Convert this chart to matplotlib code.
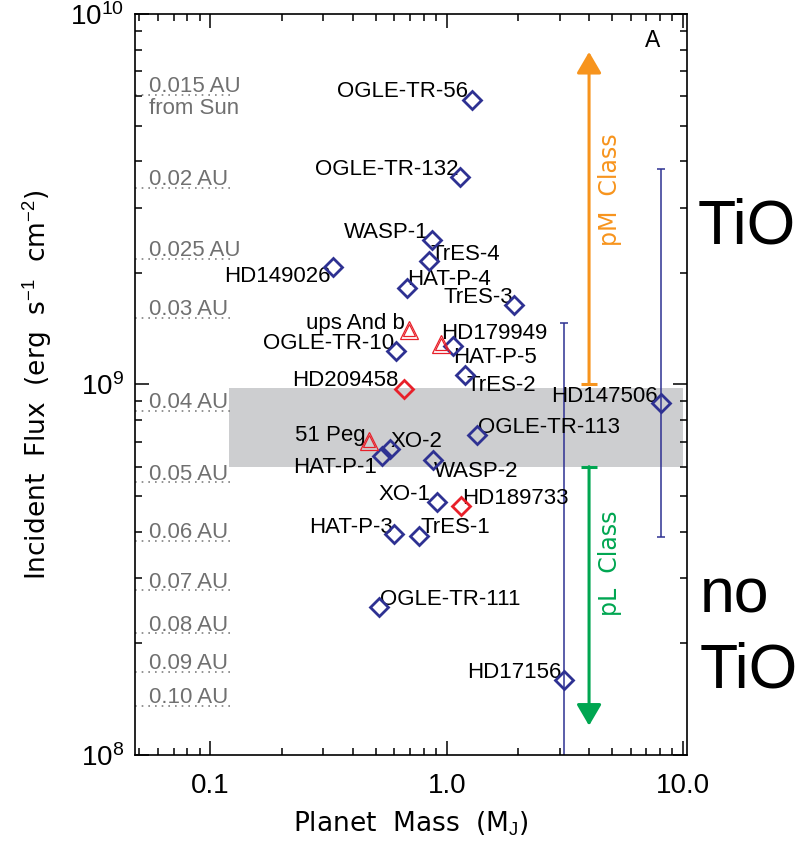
import numpy as np
import matplotlib
matplotlib.use("Agg")
import matplotlib.pyplot as plt
from matplotlib.ticker import FixedLocator, NullFormatter

plt.rcParams['font.family'] = ['Liberation Sans', 'DejaVu Sans']
plt.rcParams['mathtext.fontset'] = 'custom'
plt.rcParams['mathtext.rm'] = 'Liberation Sans'
plt.rcParams['mathtext.it'] = 'Liberation Sans:italic'

# -----------------------
# Data
# -----------------------
# planets without TiO-class info (navy diamonds)
blue_names = ["OGLE-TR-56", "OGLE-TR-132", "WASP-1", "TrES-4", "HD149026",
              "HAT-P-4", "TrES-3", "OGLE-TR-10", "HAT-P-5", "TrES-2",
              "HD147506", "OGLE-TR-113", "XO-2", "HAT-P-1", "WASP-2",
              "XO-1", "HAT-P-3", "TrES-1", "OGLE-TR-111", "HD17156"]
blue_mass = [1.28, 1.135, 0.864, 0.841, 0.331,
             0.681, 1.93, 0.608, 1.067, 1.195,
             8.07, 1.349, 0.575, 0.534, 0.875,
             0.907, 0.598, 0.763, 0.517, 3.12]
blue_flux = [5.87e9, 3.64e9, 2.46e9, 2.15e9, 2.07e9,
             1.82e9, 1.64e9, 1.235e9, 1.27e9, 1.064e9,
             8.93e8, 7.31e8, 6.71e8, 6.43e8, 6.24e8,
             4.83e8, 3.94e8, 3.91e8, 2.51e8, 1.59e8]

# observed planets (red diamonds / red triangles)
red_d_names = ["HD209458", "HD189733"]
red_d_mass = [0.657, 1.146]
red_d_flux = [9.75e8, 4.69e8]

red_t_names = ["ups And b", "HD179949", "51 Peg"]
red_t_mass = [0.69, 0.95, 0.467]
red_t_flux = [1.40e9, 1.29e9, 7.02e8]

# eccentric planets: flux range over the orbit
ecc_names = ["HD147506", "HD17156"]
ecc_mass = [8.07, 3.12]
ecc_flux = [8.93e8, 1.59e8]
ecc_flux_lo = [3.87e8, 5.0e7]
ecc_flux_hi = [3.82e9, 1.47e9]

# distance from the Sun giving the same flux
au_labels = ["0.015 AU", "0.02 AU", "0.025 AU", "0.03 AU", "0.04 AU", "0.05 AU",
             "0.06 AU", "0.07 AU", "0.08 AU", "0.09 AU", "0.10 AU"]
au_flux = [6.05e9, 3.40e9, 2.18e9, 1.51e9, 8.5e8, 5.44e8,
           3.78e8, 2.78e8, 2.13e8, 1.68e8, 1.36e8]

# transition region and class arrows
band_mass = [0.12, 10.0]
band_flux = [6.0e8, 9.8e8]
class_mass = 4.0
pm_flux = [1.0e9, 7.9e9]
pl_flux = [6.0e8, 1.2e8]

# label offsets (pixels) and alignment
label_pos = {
    "OGLE-TR-56": (-4, 8, "right"), "OGLE-TR-132": (-1, 7, "right"),
    "WASP-1": (-3, 7, "right"), "TrES-4": (2, 7, "left"),
    "HD149026": (-3, -9, "right"), "HAT-P-4": (0, 9, "left"),
    "TrES-3": (-1, 7, "right"), "ups And b": (-4, 7, "right"),
    "OGLE-TR-10": (-2, 7, "right"), "HD179949": (0, 10, "left"),
    "HAT-P-5": (0, -11, "left"), "TrES-2": (1, -11, "left"),
    "HD209458": (-5, 8, "right"), "HD147506": (-3, 6, "right"),
    "OGLE-TR-113": (1, 7, "left"), "51 Peg": (-3, 6, "right"),
    "XO-2": (1, 7, "left"), "HAT-P-1": (-5, -12, "right"),
    "WASP-2": (1, -11, "left"), "XO-1": (-6, 7, "right"),
    "HD189733": (1, 8, "left"), "HAT-P-3": (-1, 7, "right"),
    "TrES-1": (2, 8, "left"), "OGLE-TR-111": (1, 7, "left"),
    "HD17156": (-2, 8, "right"),
}

navy = "#2E3192"
red = "#E8202A"
orange = "#F7941D"
green = "#00A651"
grey_txt = "#707070"

# -----------------------
# Figure
# -----------------------
fig = plt.figure(figsize=(7.99, 8.43), dpi=100)
ax = fig.add_axes([0.169, 0.1044, 0.691, 0.879])
ax.set_xscale("log")
ax.set_yscale("log")
ax.set_xlim(0.048, 10.4)
ax.set_ylim(1e8, 1e10)

ax.fill_between(band_mass, band_flux[0], band_flux[1], color="#CDCED0", lw=0, zorder=0)

for lab, f in zip(au_labels, au_flux):
    ax.axhline(f, xmin=0, xmax=0.18, ls=(0, (1, 3)), lw=1.2, color="#808080", zorder=1)
    ax.annotate(lab, (0.025, f), xycoords=("axes fraction", "data"),
                xytext=(0, 2), textcoords="offset points",
                ha="left", va="baseline", fontsize=16, color=grey_txt)
ax.annotate("from Sun", (0.025, au_flux[0]), xycoords=("axes fraction", "data"),
            xytext=(0, -2), textcoords="offset points",
            ha="left", va="top", fontsize=16, color=grey_txt)

# error bars for eccentric orbits
ax.errorbar(ecc_mass, ecc_flux,
            yerr=[np.array(ecc_flux) - np.array(ecc_flux_lo),
                  np.array(ecc_flux_hi) - np.array(ecc_flux)],
            fmt="none", ecolor=navy, elinewidth=1.1, capsize=3.2, capthick=1.1, zorder=2)

ax.plot(blue_mass, blue_flux, ls="none", marker="D", ms=9.5, mfc="none",
        mec=navy, mew=2, zorder=4)
ax.plot(red_d_mass, red_d_flux, ls="none", marker="D", ms=9.5, mfc="none",
        mec=red, mew=2, zorder=4)
ax.plot(red_t_mass, red_t_flux, ls="none", marker="^", ms=13.5, mfc="none",
        mec=red, mew=0.9, zorder=4)
ax.plot(red_t_mass, red_t_flux, ls="none", marker="^", ms=9, mfc="none",
        mec=red, mew=0.9, zorder=4)

names = blue_names + red_d_names + red_t_names
xs = blue_mass + red_d_mass + red_t_mass
ys = blue_flux + red_d_flux + red_t_flux
for n, x, y in zip(names, xs, ys):
    dx, dy, ha = label_pos[n]
    ax.annotate(n, (x, y), xytext=(dx * 0.72, dy * 0.72), textcoords="offset points",
                ha=ha, va="center", fontsize=16, zorder=3)

# class arrows
ax.annotate("", xy=(class_mass, pm_flux[1]), xytext=(class_mass, pm_flux[0]),
            arrowprops=dict(arrowstyle="-|>,head_length=1.3,head_width=0.76",
                            mutation_scale=10, color=orange, lw=2.2,
                            shrinkA=0, shrinkB=0))
ax.plot([class_mass], [pm_flux[0]], marker="_", ms=12, mew=2.2, color=orange)
ax.annotate("", xy=(class_mass, pl_flux[1]), xytext=(class_mass, pl_flux[0]),
            arrowprops=dict(arrowstyle="-|>,head_length=1.3,head_width=0.76",
                            mutation_scale=10, color=green, lw=2.2,
                            shrinkA=0, shrinkB=0))
ax.plot([class_mass], [pl_flux[0]], marker="_", ms=12, mew=2.2, color=green)

ax.text(4.9, 3.36e9, "pM  Class", rotation=90, ha="center", va="center",
        fontsize=17, color=orange, family="DejaVu Sans")
ax.text(4.9, 3.29e8, "pL  Class", rotation=90, ha="center", va="center",
        fontsize=17, color=green, family="DejaVu Sans")

ax.text(0.937, 0.9636, "A", transform=ax.transAxes, ha="center", va="center", fontsize=16.5)

fig.text(0.8736, 0.7106, "TiO", fontsize=45, ha="left", va="baseline")
fig.text(0.8755, 0.274, "no", fontsize=45, ha="left", va="baseline")
fig.text(0.8755, 0.1839, "TiO", fontsize=45, ha="left", va="baseline")

# axes styling
ax.xaxis.set_major_locator(FixedLocator([0.1, 1.0, 10.0]))
ax.set_xticklabels(["0.1", "1.0", "10.0"])
ax.xaxis.set_minor_locator(FixedLocator([0.05, 0.06, 0.07, 0.08, 0.09,
                                         0.2, 0.3, 0.4, 0.5, 0.6, 0.7, 0.8, 0.9,
                                         2, 3, 4, 5, 6, 7, 8, 9]))
ax.xaxis.set_minor_formatter(NullFormatter())
ax.yaxis.set_major_locator(FixedLocator([1e8, 1e9, 1e10]))
ax.set_yticklabels([r"10$^{8}$", r"10$^{9}$", r"10$^{10}$"])
ax.yaxis.set_minor_locator(FixedLocator([m * 10.0 ** e for e in (8, 9) for m in range(2, 10)]))
ax.yaxis.set_minor_formatter(NullFormatter())

ax.tick_params(which="both", direction="in", top=True, right=True, width=1.1)
ax.tick_params(which="major", length=10)
ax.tick_params(which="minor", length=5)
ax.tick_params(axis="x", which="major", labelsize=20, pad=13)
ax.tick_params(axis="y", which="major", labelsize=20, pad=8)
for s in ax.spines.values():
    s.set_linewidth(1.2)

ax.set_xlabel(r"Planet  Mass  (M$_{\rm J}$)", fontsize=19, labelpad=8, family="DejaVu Sans")
ax.set_ylabel(r"Incident  Flux  (erg  s$^{-1}$  cm$^{-2}$)", fontsize=19, labelpad=11,
              family="DejaVu Sans")

fig.savefig("out.png", dpi=100)
